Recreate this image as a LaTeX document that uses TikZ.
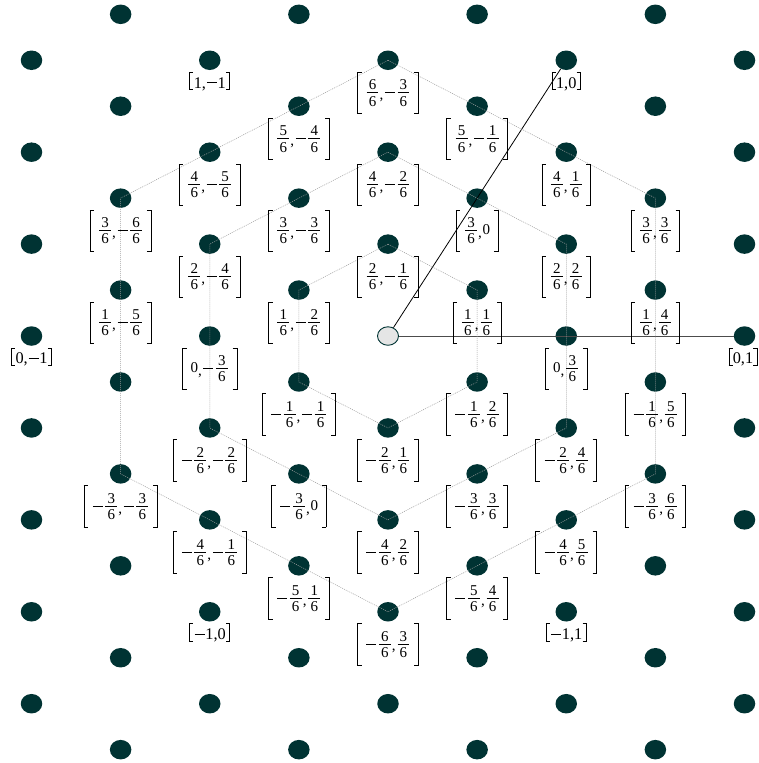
\documentclass[tikz,border=0pt]{standalone}
\usepackage{fontspec}
\setmainfont{Liberation Serif}
\usetikzlibrary{shapes.geometric}
\definecolor{dotc}{RGB}{0,51,51}
% brackets built from rules: #1 height, #2 lowering, #3 serif width
\newcommand\BrL[3]{\lower#2\hbox{\vrule width.7pt height#1 depth0pt\kern-.7pt\vbox to#1{\hrule width#3 height.7pt\vfil\hrule width#3 height.7pt}}}
\newcommand\BrR[3]{\lower#2\hbox{\vbox to#1{\hrule width#3 height.7pt\vfil\hrule width#3 height.7pt}\kern-.7pt\vrule width.7pt height#1 depth0pt}}
% tight fraction, bar at 3.7pt above baseline
\newcommand\Fr[2]{\kern1.1pt\lower9.6pt\vbox{\offinterlineskip\halign{\hfil\kern2.2pt##\kern2.2pt\hfil\cr\vrule height10pt depth2.7pt width0pt#1\cr\noalign{\hrule height.6pt}\vrule height13pt depth0pt width0pt#2\cr}}\kern1.1pt}
\newcommand\Cm{\lower3pt\hbox{,}\kern.8pt}
\newcommand\Mn{\kern.8pt\vrule height4.05pt depth-3.35pt width10pt\kern1.5pt}
\newcommand\FLab[1]{\BrL{42pt}{17.3pt}{4.5pt}\kern3.75pt#1\kern3.75pt\BrR{42pt}{17.3pt}{4.5pt}}
\newcommand\ILab[1]{\BrL{18pt}{1.8pt}{4pt}\kern.3pt#1\kern.3pt\BrR{18pt}{1.8pt}{4pt}}
\newcommand\IMn{\kern.8pt\vrule height6.1pt depth-5.4pt width10pt\kern.8pt}
\tikzset{
  latdot/.style={ellipse, fill=dotc, draw=none, minimum width=21.5pt, minimum height=19.5pt, inner sep=0pt},
  ctrdot/.style={ellipse, fill=black!10, draw=dotc, line width=0.9pt, minimum width=21pt, minimum height=18.5pt, inner sep=0pt},
  hexline/.style={draw=black!38, line width=0.5pt, dash pattern=on 1pt off 1pt},
  vecblk/.style={draw=black, line width=0.8pt},
  vecgry/.style={draw=black!70, line width=0.9pt},
  flab/.style={anchor=north, inner sep=0pt, font=\fontsize{15}{17}\selectfont},
  ilab/.style={anchor=north, inner sep=0pt, font=\fontsize{16.3}{19}\selectfont},
}
\begin{document}
\begin{tikzpicture}[x=1pt,y=-1pt]
\useasboundingbox (0,0) rectangle (759,763);
\fill[white] (0,0) rectangle (759,763);
% lattice dots
\foreach \i in {0,...,8}{
  \foreach \j in {0,...,16}{
    \pgfmathtruncatemacro\pp{and(mod(\i+\j,2)==1,or(\i!=4,\j!=7))}
    \ifnum\pp=1\relax
      \node[latdot] (d-\i-\j) at ({31.5+89.125*\i},{14.3+45.96*\j}) {};
    \fi
  }
}
\node[ctrdot] (d-4-7) at ({31.5+89.125*4},{14.3+45.96*7}) {};
% basis vectors
\draw[vecblk] (d-4-7) -- (d-6-1);
\draw[vecgry] (d-4-7) -- (d-8-7);
% dotted hexagons
\draw[hexline] (d-4-1.center) -- (d-5-2.center) -- (d-6-3.center) -- (d-7-4.center) -- (d-7-10.center) -- (d-6-11.center) -- (d-5-12.center) -- (d-4-13.center) -- (d-3-12.center) -- (d-2-11.center) -- (d-1-10.center) -- (d-1-4.center) -- (d-2-3.center) -- (d-3-2.center) -- cycle;
\draw[hexline] (d-4-3.center) -- (d-5-4.center) -- (d-6-5.center) -- (d-6-9.center) -- (d-5-10.center) -- (d-4-11.center) -- (d-3-10.center) -- (d-2-9.center) -- (d-2-5.center) -- (d-3-4.center) -- cycle;
\draw[hexline] (d-4-5.center) -- (d-5-6.center) -- (d-5-8.center) -- (d-4-9.center) -- (d-3-8.center) -- (d-3-6.center) -- cycle;
% fraction labels
\node[flab] (f1)  at ([yshift=-11.3pt]d-4-1.center)  {\FLab{\Fr66\Cm\Mn\Fr36}};
\node[flab] (f2)  at ([yshift=-11.3pt]d-3-2.center)  {\FLab{\Fr56\Cm\Mn\Fr46}};
\node[flab] (f3)  at ([yshift=-11.3pt]d-5-2.center)  {\FLab{\Fr56\Cm\Mn\Fr16}};
\node[flab] (f4)  at ([yshift=-11.3pt]d-2-3.center)  {\FLab{\Fr46\Cm\Mn\Fr56}};
\node[flab] (f5)  at ([yshift=-11.3pt]d-4-3.center)  {\FLab{\Fr46\Cm\Mn\Fr26}};
\node[flab] (f6)  at ([yshift=-11.3pt]d-6-3.center)  {\FLab{\Fr46\Cm\Fr16}};
\node[flab] (f7)  at ([yshift=-11.3pt]d-1-4.center)  {\FLab{\Fr36\Cm\Mn\Fr66}};
\node[flab] (f8)  at ([yshift=-11.3pt]d-3-4.center)  {\FLab{\Fr36\Cm\Mn\Fr36}};
\node[flab] (f9)  at ([yshift=-11.3pt]d-5-4.center)  {\FLab{\Fr36\Cm 0}};
\node[flab] (f10) at ([yshift=-11.3pt]d-7-4.center)  {\FLab{\Fr36\Cm\Fr36}};
\node[flab] (f11) at ([yshift=-11.3pt]d-2-5.center)  {\FLab{\Fr26\Cm\Mn\Fr46}};
\node[flab] (f12) at ([yshift=-11.3pt]d-4-5.center)  {\FLab{\Fr26\Cm\Mn\Fr16}};
\node[flab] (f13) at ([yshift=-11.3pt]d-6-5.center)  {\FLab{\Fr26\Cm\Fr26}};
\node[flab] (f14) at ([yshift=-11.3pt]d-1-6.center)  {\FLab{\Fr16\Cm\Mn\Fr56}};
\node[flab] (f15) at ([yshift=-11.3pt]d-3-6.center)  {\FLab{\Fr16\Cm\Mn\Fr26}};
\node[flab] (f16) at ([yshift=-11.3pt]d-5-6.center)  {\FLab{\Fr16\Cm\Fr16}};
\node[flab] (f17) at ([yshift=-11.3pt]d-7-6.center)  {\FLab{\Fr16\Cm\Fr46}};
\node[flab] (f18) at ([yshift=-11.3pt]d-2-7.center)  {\FLab{0\Cm\Mn\Fr36}};
\node[flab] (f19) at ([yshift=-11.3pt]d-6-7.center)  {\FLab{0\Cm\Fr36}};
\node[flab] (f20) at ([yshift=-11.3pt]d-3-8.center)  {\FLab{\Mn\Fr16\Cm\Mn\Fr16}};
\node[flab] (f21) at ([yshift=-11.3pt]d-5-8.center)  {\FLab{\Mn\Fr16\Cm\Fr26}};
\node[flab] (f22) at ([yshift=-11.3pt]d-7-8.center)  {\FLab{\Mn\Fr16\Cm\Fr56}};
\node[flab] (f23) at ([yshift=-11.3pt]d-2-9.center)  {\FLab{\Mn\Fr26\Cm\Mn\Fr26}};
\node[flab] (f24) at ([yshift=-11.3pt]d-4-9.center)  {\FLab{\Mn\Fr26\Cm\Fr16}};
\node[flab] (f25) at ([yshift=-11.3pt]d-6-9.center)  {\FLab{\Mn\Fr26\Cm\Fr46}};
\node[flab] (f26) at ([yshift=-11.3pt]d-1-10.center) {\FLab{\Mn\Fr36\Cm\Mn\Fr36}};
\node[flab] (f27) at ([yshift=-11.3pt]d-3-10.center) {\FLab{\Mn\Fr36\Cm 0}};
\node[flab] (f28) at ([yshift=-11.3pt]d-5-10.center) {\FLab{\Mn\Fr36\Cm\Fr36}};
\node[flab] (f29) at ([yshift=-11.3pt]d-7-10.center) {\FLab{\Mn\Fr36\Cm\Fr66}};
\node[flab] (f30) at ([yshift=-11.3pt]d-2-11.center) {\FLab{\Mn\Fr46\Cm\Mn\Fr16}};
\node[flab] (f31) at ([yshift=-11.3pt]d-4-11.center) {\FLab{\Mn\Fr46\Cm\Fr26}};
\node[flab] (f32) at ([yshift=-11.3pt]d-6-11.center) {\FLab{\Mn\Fr46\Cm\Fr56}};
\node[flab] (f33) at ([yshift=-11.3pt]d-3-12.center) {\FLab{\Mn\Fr56\Cm\Fr16}};
\node[flab] (f34) at ([yshift=-11.3pt]d-5-12.center) {\FLab{\Mn\Fr56\Cm\Fr46}};
\node[flab] (f35) at ([yshift=-11.3pt]d-4-13.center) {\FLab{\Mn\Fr66\Cm\Fr36}};
% integer labels
\node[ilab] (i1) at ([yshift=-11.5pt]d-2-1.center)  {\ILab{1,\IMn 1}};
\node[ilab] (i2) at ([yshift=-11.5pt]d-6-1.center)  {\ILab{1,0}};
\node[ilab] (i3) at ([yshift=-11.5pt]d-0-7.center)  {\ILab{0,\IMn 1}};
\node[ilab] (i4) at ([xshift=-1.5pt,yshift=-11.5pt]d-8-7.center)  {\ILab{0,1}};
\node[ilab] (i5) at ([yshift=-11.5pt]d-2-13.center) {\ILab{\IMn 1,0}};
\node[ilab] (i6) at ([yshift=-11.5pt]d-6-13.center) {\ILab{\IMn 1,1}};
\end{tikzpicture}
\end{document}
